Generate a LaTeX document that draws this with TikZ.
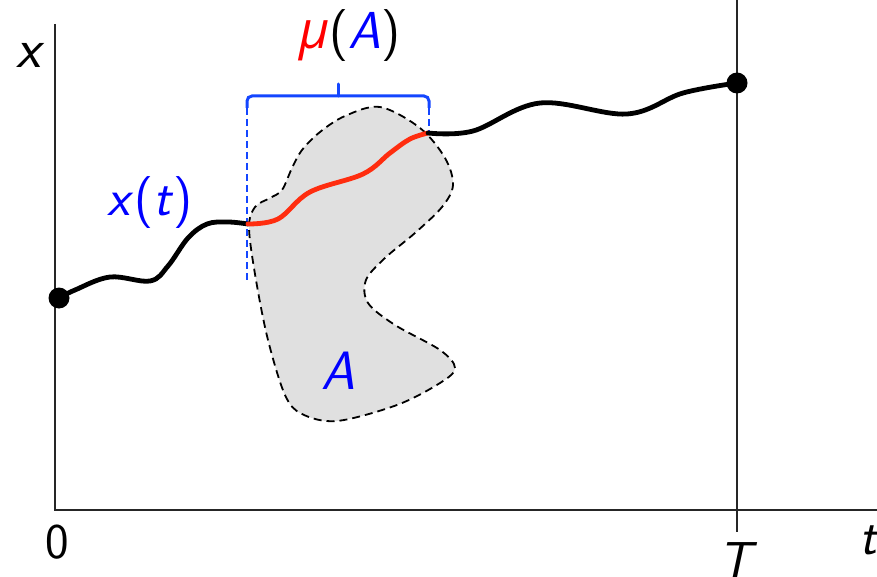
\documentclass[tikz,border=0pt]{standalone}
\usepackage{fontspec}
\newfontfamily\grk{Open Sans}
\definecolor{curvered}{RGB}{255,45,15}
\definecolor{brblue}{RGB}{20,70,255}
\definecolor{shapegray}{RGB}{224,224,224}
\newcommand{\up}[1]{\textup{#1}}
\tikzset{
  lbl/.style={inner sep=0pt, font=\fontsize{52}{60}\selectfont\sffamily\itshape},
  axisline/.style={line width=1.6pt, black!85},
  pathline/.style={line width=4.8pt, line cap=round, line join=round},
  dot/.style={circle, fill=black, inner sep=0pt, minimum size=21pt},
}
\begin{document}
\begin{tikzpicture}[x=1pt,y=-1pt]
\useasboundingbox (0,0) rectangle (877,577);
% region A
\draw[fill=shapegray, dash pattern=on 8pt off 5pt, line width=1.8pt]
  plot[smooth cycle, tension=0.55] coordinates {
  (380,107) (420,128) (445,158) (453,185) (442,207) (415,233) (385,258) (366,280)
  (368,303) (395,325) (440,350) (455,368) (440,383) (397,405) (337,421) (302,414)
  (285,395) (268,340) (256,280) (249,228) (255,207) (270,198) (282,190) (292,168)
  (302,150) (320,132) (345,116)};
% axes
\coordinate (o) at (55,510);
\coordinate (ytop) at (55,24);
\coordinate (xend) at (877,510);
\coordinate (Ttop) at (737,0);
\coordinate (Tbot) at (737,532);
\draw[axisline] (ytop) -- (o) -- (xend);
\draw[axisline] (Ttop) -- (Tbot);
% blue bracket
\coordinate (bl) at (247,108);
\coordinate (br) at (429,108);
\coordinate (bm) at (338,96);
\coordinate (btip) at (338,84);
\coordinate (bldash) at (247,280);
\coordinate (brdash) at (429,133);
\draw[brblue, line width=3pt, rounded corners=5pt] (bl) |- (bm) -| (br);
\draw[brblue, line width=3pt, line cap=round] (bm) -- (btip);
\draw[brblue, line width=1.8pt, dash pattern=on 7pt off 4pt] (bl) -- (bldash);
\draw[brblue, line width=1.8pt, dash pattern=on 7pt off 4pt] (br) -- (brdash);
% path x(t)
\draw[pathline, black] plot[smooth, tension=0.6] coordinates {
  (59,298) (75,290) (110,277) (150,281) (168,266) (188,238) (207,224) (228,222) (248,224)};
\draw[pathline, curvered] plot[smooth, tension=0.6] coordinates {
  (248,224) (278,219) (310,192) (363,174) (390,153) (410,139) (428,133)};
\draw[pathline, black] plot[smooth, tension=0.6] coordinates {
  (428,133) (473,131) (540,103) (627,114) (683,93) (737,83)};
\node[dot] (start) at (59,298) {};
\node[dot] (end) at (737,83) {};
% labels
\node[lbl, font=\fontsize{56}{64}\selectfont\sffamily\itshape] (xlab) at (29,55) {x};
\node[lbl, text=blue] (xt) at (150,203) {x\up{(}t\up{)}};
\node[lbl] (mua) at (350,36) {\textcolor{red}{\grk\itshape μ}\up{(}\textcolor{blue}{A}\up{)}};
\node[lbl, text=blue, font=\fontsize{54}{60}\selectfont\sffamily\itshape] (alab) at (338,371) {A};
\node[lbl, font=\fontsize{50}{56}\selectfont\sffamily] (zero) at (57,542) {0};
\node[lbl] (Tlab) at (735,561) {T};
\node[lbl] (tlab) at (868,540) {t};
\end{tikzpicture}
\end{document}
